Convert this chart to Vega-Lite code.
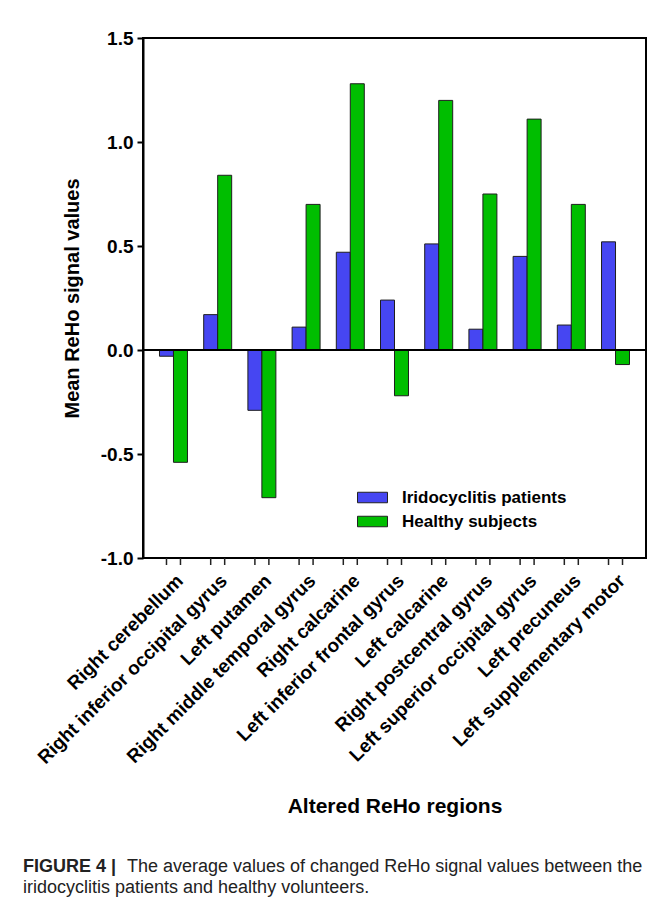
{
  "$schema": "https://vega.github.io/schema/vega-lite/v6.json",
  "width": 503,
  "height": 520,
  "autosize": {"type": "none"},
  "padding": {"left": 143, "top": 38, "right": 9, "bottom": 352},
  "background": "white",
  "data": {
    "values": [
      {"region": "Right cerebellum", "group": "Iridocyclitis patients", "value": -0.03},
      {"region": "Right cerebellum", "group": "Healthy subjects", "value": -0.54},
      {"region": "Right inferior occipital gyrus", "group": "Iridocyclitis patients", "value": 0.17},
      {"region": "Right inferior occipital gyrus", "group": "Healthy subjects", "value": 0.84},
      {"region": "Left putamen", "group": "Iridocyclitis patients", "value": -0.29},
      {"region": "Left putamen", "group": "Healthy subjects", "value": -0.71},
      {"region": "Right middle temporal gyrus", "group": "Iridocyclitis patients", "value": 0.11},
      {"region": "Right middle temporal gyrus", "group": "Healthy subjects", "value": 0.70},
      {"region": "Right calcarine", "group": "Iridocyclitis patients", "value": 0.47},
      {"region": "Right calcarine", "group": "Healthy subjects", "value": 1.28},
      {"region": "Left inferior frontal gyrus", "group": "Iridocyclitis patients", "value": 0.24},
      {"region": "Left inferior frontal gyrus", "group": "Healthy subjects", "value": -0.22},
      {"region": "Left calcarine", "group": "Iridocyclitis patients", "value": 0.51},
      {"region": "Left calcarine", "group": "Healthy subjects", "value": 1.20},
      {"region": "Right postcentral gyrus", "group": "Iridocyclitis patients", "value": 0.10},
      {"region": "Right postcentral gyrus", "group": "Healthy subjects", "value": 0.75},
      {"region": "Left superior occipital gyrus", "group": "Iridocyclitis patients", "value": 0.45},
      {"region": "Left superior occipital gyrus", "group": "Healthy subjects", "value": 1.11},
      {"region": "Left precuneus", "group": "Iridocyclitis patients", "value": 0.12},
      {"region": "Left precuneus", "group": "Healthy subjects", "value": 0.70},
      {"region": "Left supplementary motor", "group": "Iridocyclitis patients", "value": 0.52},
      {"region": "Left supplementary motor", "group": "Healthy subjects", "value": -0.07}
    ]
  },
  "title": {
    "text": "FIGURE 4 |",
    "subtitle": ["\u2800\u2800\u2800\u2800\u2800\u2800\u2800\u2800The average values of changed ReHo signal values between the", "iridocyclitis patients and healthy volunteers."],
    "orient": "bottom",
    "anchor": "start",
    "frame": "group",
    "dx": -120,
    "offset": 42,
    "font": "Liberation Sans",
    "fontSize": 18,
    "fontWeight": "bold",
    "color": "#222222",
    "subtitleFont": "Liberation Sans",
    "subtitleFontSize": 18,
    "subtitleFontWeight": "normal",
    "subtitleColor": "#222222",
    "subtitlePadding": -18,
    "subtitleLineHeight": 21
  },
  "layer": [
    {
      "mark": {"type": "bar", "stroke": "#1e1e1e", "strokeWidth": 1},
      "encoding": {
        "x": {
          "field": "region",
          "type": "nominal",
          "sort": null,
          "scale": {"paddingInner": 0.367, "paddingOuter": 0.373},
          "axis": {
            "title": "Altered ReHo regions",
            "titleFontSize": 21,
            "titleFontWeight": "bold",
            "titleColor": "black",
            "titlePadding": 37,
            "labelAngle": -45,
            "labelFontSize": 19,
            "labelFontWeight": "bold",
            "labelColor": "black",
            "labelPadding": 13,
            "labelDx": 7,
            "labelLimit": 400,
            "ticks": false,
            "domain": false
          }
        },
        "xOffset": {"field": "group", "type": "nominal", "sort": ["Iridocyclitis patients", "Healthy subjects"]},
        "y": {
          "field": "value",
          "type": "quantitative",
          "scale": {"domain": [-1, 1.5], "nice": false, "zero": false},
          "axis": {
            "title": "Mean ReHo signal values",
            "titleFontSize": 20,
            "titleFontWeight": "bold",
            "titleColor": "black",
            "titlePadding": 18,
            "values": [-1, -0.5, 0, 0.5, 1, 1.5],
            "format": ".1f",
            "labelExpr": "replace(datum.label, '\u2212', '-')",
            "labelFontSize": 19,
            "labelFontWeight": "bold",
            "labelColor": "black",
            "labelPadding": 4,
            "tickColor": "black",
            "tickWidth": 2,
            "tickSize": 6,
            "domainColor": "black",
            "domainWidth": 2,
            "grid": false
          }
        },
        "color": {
          "field": "group",
          "type": "nominal",
          "scale": {"domain": ["Iridocyclitis patients", "Healthy subjects"], "range": ["#4646F2", "#00BE00"]},
          "legend": {
            "orient": "none",
            "legendX": 214,
            "legendY": 444,
            "title": null,
            "labelFontSize": 17,
            "labelFontWeight": "bold",
            "labelColor": "black",
            "labelLimit": 400,
            "symbolType": "M-1,-0.35H1V0.35H-1Z",
            "symbolSize": 900,
            "symbolStrokeColor": "#222222",
            "symbolStrokeWidth": 1,
            "symbolOpacity": 1,
            "rowPadding": -12,
            "labelOffset": 14
          }
        }
      }
    },
    {
      "mark": {"type": "rule", "color": "black", "strokeWidth": 2},
      "encoding": {"y": {"datum": 0}}
    },
    {
      "mark": {"type": "rule", "color": "#222222", "strokeWidth": 1.5, "y2Offset": 7},
      "encoding": {
        "x": {"field": "region", "type": "nominal", "sort": null},
        "xOffset": {"field": "group", "type": "nominal", "sort": ["Iridocyclitis patients", "Healthy subjects"]},
        "y": {"datum": -1},
        "y2": {"datum": -1}
      }
    }
  ],
  "config": {
    "font": "Liberation Sans",
    "view": {"stroke": "black", "strokeWidth": 2}
  }
}
